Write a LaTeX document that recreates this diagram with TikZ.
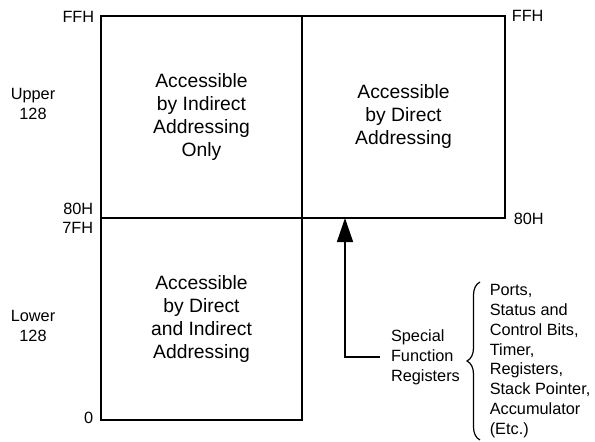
\documentclass[tikz,border=0pt]{standalone}
\usepackage{fontspec}
\setmainfont{Liberation Sans}
\usetikzlibrary{positioning, arrows.meta, decorations.pathreplacing}

\begin{document}
\begin{tikzpicture}[x=1pt, y=-1pt, line width=1.6pt,
		lbl/.style={inner sep=0pt, align=center, font=\fontsize{16.3}{19.8}\selectfont},
		area/.style={inner sep=0pt, align=center, font=\fontsize{19.3}{23}\selectfont}]
		\useasboundingbox (0,0) rectangle (595,442);
		
		% corners of the two memory blocks
		\coordinate (c0) at (101,16);
		\coordinate (c1) at (302,16);
		\coordinate (c4) at (302,218);
		\coordinate (c5) at (505,218);
		\coordinate (c3) at (101,218);
		\coordinate (c7) at (302,420);
		\coordinate (tip) at (345,218);
		\coordinate (bt) at (480,282);
		\coordinate (bb) at (480,440);
		
		\draw (c0) rectangle (c7);
		\draw (c1) rectangle (c5);
		\draw (c3) -- (c4);
		
		\node[area] (q0) at (201.5,117) {Accessible\\by Indirect\\Addressing\\Only};
		\node[area] (q1) at (403.5,117) {Accessible\\by Direct\\Addressing};
		\node[area] (q2) at (201.5,319) {Accessible\\by Direct\\and Indirect\\Addressing};
		
		\node[lbl, anchor=east] (ffh0) at (95,16.5) {FFH};
		\node[lbl, anchor=west] (ffh1) at (511,16) {FFH};
		\node[lbl] (up) at (33,104) {Upper\\128};
		\node[lbl, anchor=east] (h80a) at (94,209) {80H};
		\node[lbl, anchor=east] (h7f) at (94,228) {7FH};
		\node[lbl, anchor=west] (h80b) at (513,219) {80H};
		\node[lbl] (low) at (33,326) {Lower\\128};
		\node[lbl, anchor=east] (zero) at (94,418) {0};
		
		\node[lbl, align=left, anchor=west, outer xsep=11pt] (sfr) at (380,357) {Special\\Function\\Registers};
		\node[lbl, align=left, anchor=west] (lst) at (489,361) {Ports,\\Status and\\Control Bits,\\Timer,\\Registers,\\Stack Pointer,\\Accumulator\\(Etc.)};
		
		\draw[-{Triangle[length=24pt, width=16pt]}] (sfr.west) -| (tip);
		\draw[line width=1.2pt, decorate, decoration={brace, mirror, amplitude=13pt}] (bt) -- (bb);
		
\end{tikzpicture}
\end{document}
